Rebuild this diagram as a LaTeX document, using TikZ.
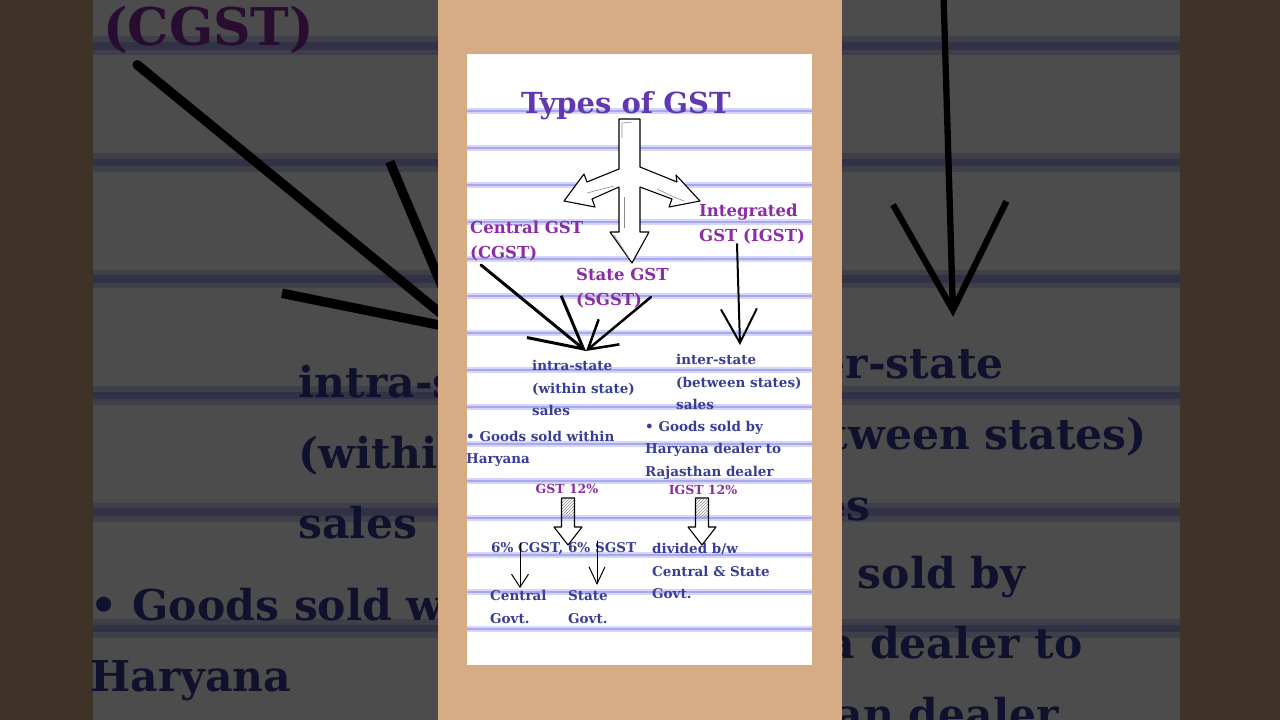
\documentclass[tikz,border=0pt]{standalone}
\usepackage{fontspec}
\setmainfont{DejaVu Serif}
\usetikzlibrary{arrows.meta,patterns}

\definecolor{paper}{RGB}{214,172,132}
\definecolor{titlepurple}{RGB}{96,56,178}
\definecolor{labelpurple}{RGB}{140,44,165}
\definecolor{bodyblue}{RGB}{56,62,152}
\definecolor{rulelight}{RGB}{214,214,250}
\definecolor{ruledark}{RGB}{168,168,238}

\newcommand{\lwf}{1}

\tikzset{
  txt/.style={inner sep=0, align=left},
  headfont/.style={txt, text=titlepurple, font=\bfseries\fontsize{29}{32}\selectfont},
  labelfont/.style={txt, text=labelpurple, font=\bfseries\fontsize{16.5}{25.5}\selectfont},
  bodyfont/.style={txt, text=bodyblue, font=\bfseries\fontsize{13.5}{22.5}\selectfont},
  ratefont/.style={txt, text=labelpurple, font=\bfseries\fontsize{12.5}{15}\selectfont},
  ruleline/.style={rulelight, line width=6*\lwf pt},
  rulecore/.style={ruledark, line width=2.4*\lwf pt},
  sketch/.style={draw=black, fill=white, line width=1.1*\lwf pt, line join=round},
  sketchin/.style={black!45, line width=0.6*\lwf pt},
  heavy/.style={line width=3*\lwf pt, line cap=round, line join=round},
  pen/.style={line width=1*\lwf pt, line cap=round},
}

% hollow down arrow, hatched at the top
\newcommand{\hollowdown}[1]{%
  \fill[pattern=north east lines, pattern color=black!45] (#1) ++(-6,1) rectangle ++(12,18);
  \draw[sketch, fill=none] (#1) ++(-6.5,0) -- ++(0,29) -- ++(-7.5,0) -- ++(14,18)
    -- ++(14,-18) -- ++(-7.5,0) -- ++(0,-29) -- cycle;
}

\newcommand{\gstcard}{%
  \fill[paper] (438,0) rectangle (842,720);
  \fill[white] (467,54) rectangle (812,665);
  \foreach \k in {0,...,14}{
    \draw[ruleline] (467,111+37*\k) -- (812,111+37*\k);
    \draw[rulecore] (467,111+37*\k) -- (812,111+37*\k);
  }
  % three way arrow
  \draw[sketch] (619,119) -- (640,119) -- (640,167) -- (677,182) -- (676,175) -- (700,201)
    -- (669,207) -- (672,199) -- (640,187) -- (640,232) -- (649,232) -- (632,263)
    -- (610,232) -- (619,232) -- (619,187) -- (592,199) -- (595,207) -- (564,201)
    -- (584,174) -- (587,182) -- (619,169) -- cycle;
  \draw[sketchin] (622,138) -- (622,123) -- (632,122);
  \draw[sketchin] (587,193) -- (614,186);
  \draw[sketchin] (657,189) -- (674,197) -- (684,201);
  \draw[sketchin] (624,197) -- (624,228);
  \draw[sketchin] (614,235) -- (629,258);
  \node[headfont, anchor=base] (title) at (626,113) {Types of GST};
  \node[labelfont, anchor=west] (cgst) at (470,241) {Central GST\\(CGST)};
  \node[labelfont, anchor=west] (sgst) at (576,288) {State GST\\(SGST)};
  \node[labelfont, anchor=west] (igst) at (699,224) {Integrated\\GST (IGST)};
  \node[bodyfont, anchor=west] (intra) at (532,388) {intra-state\\(within state)\\sales};
  \node[bodyfont, anchor=west] (inter) at (676,382) {inter-state\\(between states)\\sales};
  \node[bodyfont, anchor=west] (intraex) at (466,449) {\textbullet{} Goods sold within\\Haryana};
  \node[bodyfont, anchor=west] (interex) at (645,450) {\textbullet{} Goods sold by\\Haryana dealer to\\Rajasthan dealer};
  \node[ratefont] (gstrate) at (567,489) {GST 12\%};
  \node[ratefont] (igstrate) at (703,490) {IGST 12\%};
  \node[bodyfont, anchor=west] (split) at (491,549) {6\% CGST, 6\% SGST};
  \node[bodyfont, anchor=west] (divided) at (652,571) {divided b/w\\Central \& State\\Govt.};
  \node[bodyfont, anchor=west] (cgov) at (490,607) {Central\\Govt.};
  \node[bodyfont, anchor=west] (sgov) at (568,607) {State\\Govt.};
  % connectors
  \coordinate (cgstfoot) at (481,265);
  \coordinate (sgstfoot) at (651,297);
  \coordinate (intratip) at (586,351);
  \coordinate (igstfoot) at (737,244);
  \coordinate (intertip) at (740,345);
  \draw[heavy, -{Straight Barb[length=0pt 17, width=0pt 18]}] (cgstfoot) -- (intratip);
  \draw[heavy, line width=2.5*\lwf pt, -{Straight Barb[length=0pt 11, width=0pt 13]}] (sgstfoot) -- (intratip);
  \draw[heavy, line width=2*\lwf pt, -{Straight Barb[length=0pt 17, width=0pt 18]}] (igstfoot) -- (intertip);
  \coordinate (gstdrop) at (568,498);
  \coordinate (igstdrop) at (702,498);
  \hollowdown{gstdrop}
  \hollowdown{igstdrop}
  \coordinate (cgstdrop) at (520,543);
  \coordinate (cgovtip) at (520,588);
  \coordinate (sgstdrop) at (597,541);
  \coordinate (sgovtip) at (597,585);
  \draw[pen, -{Straight Barb[length=0pt 13, width=0pt 17]}] (cgstdrop) -- (cgovtip);
  \draw[pen, -{Straight Barb[length=0pt 17, width=0pt 16]}] (sgstdrop) -- (sgovtip);
}

\begin{document}
\begin{tikzpicture}[x=1pt, y=-1pt]
  \useasboundingbox (0,0) rectangle (1280,720);
  \clip (0,0) rectangle (1280,720);
  \fill[paper] (0,0) rectangle (1280,720);
  % enlarged backdrop
  \begin{scope}[shift={(-1378,-770)}, scale=3.15, transform shape]
    \renewcommand{\lwf}{3.15}
    \gstcard
  \end{scope}
  \fill[black, opacity=0.7] (0,0) rectangle (1280,720);
  \gstcard
\end{tikzpicture}
\end{document}
